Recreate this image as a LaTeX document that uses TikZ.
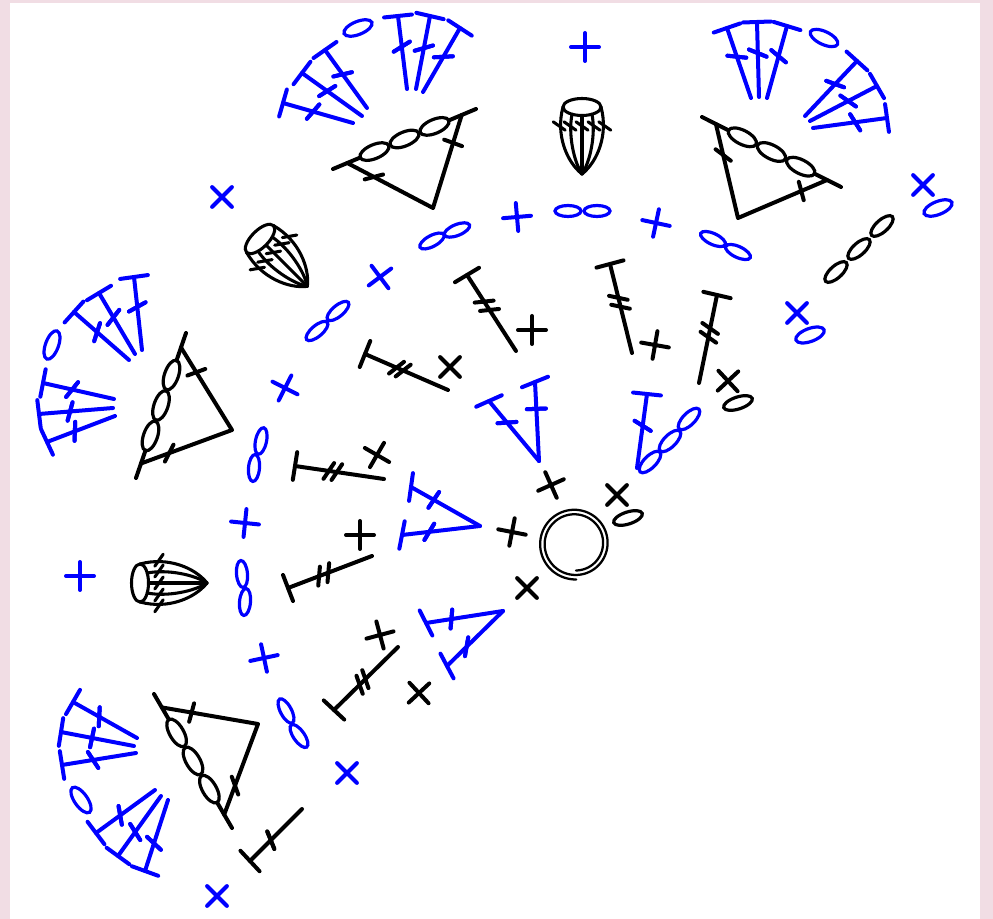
\documentclass[tikz,border=0pt]{standalone}
\usetikzlibrary{calc}
\definecolor{edgepink}{RGB}{241,221,228}
\tikzset{
  stitch/.style={line width=3pt,line cap=round,line join=round},
  chainloop/.style={line width=2.4pt},
  puffline/.style={line width=2.3pt,line cap=round,black}
}
\begin{document}
\begin{tikzpicture}[x=0.75pt,y=-0.75pt]
\useasboundingbox (0,0) rectangle (993,919);
\fill[edgepink] (0,0) rectangle (993,919);
\fill[white] (10,3) rectangle (980,919);
% plain crosses
\foreach \x/\y/\ang/\col in {585/47/0/blue,222/197/45/blue,517/217/5/blue,656/223/-12/blue,923/185/45/blue,
  380/277/37/blue,797/313/45/blue,285/388/-27/blue,245/523/-6/blue,80/576/0/blue,264/658/12/blue,
  347/773/45/blue,217/896/45/blue,532/330/0/black,655/345/-10/black,450/367/45/black,728/381/43/black,
  377/455/-30/black,360/535/0/black,551/485/24/black,512/532/-11/black,617/495/45/black,527/588/45/black,
  380/635/15/black,419/693/43/black}
  \draw[stitch,color=\col,shift={(\x,\y)},rotate=\ang] (-14,0) -- (14,0) (0,-14) -- (0,14);
% chain loops
\foreach \x/\y/\ang/\rx/\ry/\col in {358/28/22/15/6.5/blue,432/241/28/13.5/5.5/blue,457/230/22/13.5/5.5/blue,
  568/211/0/13/5.5/blue,597/211/0/13/5.5/blue,713/239/-25/13.5/5.5/blue,738/252/-25/13.5/5.5/blue,
  317/331/40/13.5/5.5/blue,338/311/40/13.5/5.5/blue,938/208/22/15/6.5/blue,810/335/20/15/6.5/blue,
  824/38/-25/15/6.5/blue,52/345/70/15/6.5/blue,261/441/78/13.5/5.5/blue,254/468/85/13.5/5.5/blue,
  242/574/95/13.5/5.5/blue,245/602/85/13.5/5.5/blue,286/711/-62/13.5/5.5/blue,299/736/-55/13.5/5.5/blue,
  81/800/-55/15/6.5/blue,650/462/45/14/6/blue,670/441/45/14/6/blue,689/419/45/14/6/blue,
  836/272/42/14/6/black,859/249/42/14/6/black,882/226/42/14/6/black,738/403/18/15/6/black,628/518/18/15/6/black}
  \draw[chainloop,color=\col,shift={(\x,\y)},rotate=\ang] (0,0) ellipse [x radius=\rx,y radius=\ry];
% tall stitches: base, top, colour, bar positions, bar angle, top angle
\foreach \bx/\by/\tx/\ty/\col/\fa/\fb/\barang/\topang in {
  353/123/283/103/blue/.57/.57/49/74,362/116/302/73/blue/.58/.58/32/53,367/108/325/50/blue/.58/.58/13/35,
  407/89/398/16/blue/.58/.58/32/6,416/89/430/16/blue/.56/.56/16/-13,423/92/460/28/blue/.55/.55/3/-33,
  751/98/727/28/blue/.59/.59/-6/19,759/97/757/22/blue/.585/.585/-22/2,767/98/787/26/blue/.58/.58/-40/-17,
  805/116/857/61/blue/.58/.58/-20/-42,810/121/877/86/blue/.57/.57/-35/-60,813/128/887/118/blue/.57/.57/-58/-82,
  114/399/43/383/blue/.59/.59/51/79,113/408/39/414/blue/.58/.58/75/-83,115/416/47/442/blue/.59/.59/88/-65,
  129/360/74/312/blue/.58/.58/72/48,135/354/99/293/blue/.6/.6/52/31,142/350/134/277/blue/.59/.59/29/8,
  137/738/73/702/blue/.59/.59/87/60,134/746/61/732/blue/.575/.575/78/81,136/753/62/765/blue/.58/.58/-57/-81,
  155/790/96/833/blue/.59/.59/-80/-53,161/796/118/856/blue/.6/.6/-58/-36,168/800/145/871/blue/.61/.61/-43/-20,
  539/461/489/401/blue/.64/.64/4/24,539/461/535/382/blue/.66/.66/2/22,480/526/411/487/blue/.67/.67/56/82,
  480/526/402/535/blue/.65/.65/59/79,503/611/426/623/blue/.67/.67/85/-63,503/611/447/666/blue/.65/.65/80/-62,
  637/468/647/394/blue/.57/.57/-32/-6,302/809/250/861/black/.6/.6/-68/-47,
  516/351/467/275/black/.54/.65/6/31,632/353/610/264/black/.52/.62/-12/15,699/383/717/295/black/.52/.62/-35/-13,
  448/390/365/354/black/.54/.62/38/68,384/479/295/466/black/.53/.62/56/81,372/556/288/588/black/.52/.63/85/-69,
  398/647/334/710/black/.51/.60/-71/-43} {
  \coordinate (base) at (\bx,\by);
  \coordinate (top) at (\tx,\ty);
  \draw[stitch,color=\col] (base) -- (top);
  \draw[stitch,color=\col,shift={(top)},rotate=\topang] (-14,0) -- (14,0);
  \foreach \f in {\fa,\fb}
    \draw[stitch,color=\col,shift={($(base)!\f!(top)$)},rotate=\barang] (-9.5,0) -- (9.5,0);
}
% three chain decreases
\foreach \ax/\ay/\px/\py/\qx/\qy/\ang/\fp/\bp/\fq/\bq in {
  433/208/333/169/476/109/22.8/.69/15/.70/-20,
  738/218/702/117/841/187/-27/.67/-37/.71/105,
  232/430/186/333/136/478/71/.70/20/.69/63,
  258/724/154/694/232/828/-60/.69/75/.68/-70} {
  \coordinate (apex) at (\ax,\ay);
  \coordinate (endp) at (\px,\py);
  \coordinate (endq) at (\qx,\qy);
  \coordinate (legp) at ($(endp)!.1!(endq)$);
  \coordinate (legq) at ($(endp)!.9!(endq)$);
  \draw[stitch] (legp) -- (apex) -- (legq);
  \draw[stitch] (endp) -- ($(endp)!.19!(endq)$) ($(endp)!.81!(endq)$) -- (endq);
  \draw[stitch,shift={($(apex)!\fp!(legp)$)},rotate=\bp] (-9.5,0) -- (9.5,0);
  \draw[stitch,shift={($(apex)!\fq!(legq)$)},rotate=\bq] (-9.5,0) -- (9.5,0);
  \foreach \f in {.29,.5,.71}
    \draw[chainloop,shift={($(endp)!\f!(endq)$)},rotate=\ang] (0,0) ellipse (15.5 and 7);
}
% puffs
\foreach \x/\y/\ang in {582/107/0,260/239/45,140/583/90} {
  \begin{scope}[shift={(\x,\y)},rotate=\ang]
    \draw[puffline] (0,0) ellipse (19 and 8.5);
    \foreach \off in {-19,-10,0,10,19} {
      \draw[puffline] (\off,{8.5*sqrt(1-(\off/19)^2)}) .. controls (\off*1.4,28) and (\off*.8,55) .. (0,67);
      \draw[puffline] (\off*1.2,19)+(-35:5.5pt) -- +(145:5.5pt);
    }
  \end{scope}
}
% centre ring
\draw[line width=1.7pt,line cap=round] plot[domain=0:720,samples=160,smooth,variable=\t]
  ({575+(27+9*\t/720)*cos(-88+\t)},{543.5-(27+9*\t/720)*sin(-88+\t)});
\end{tikzpicture}
\end{document}
